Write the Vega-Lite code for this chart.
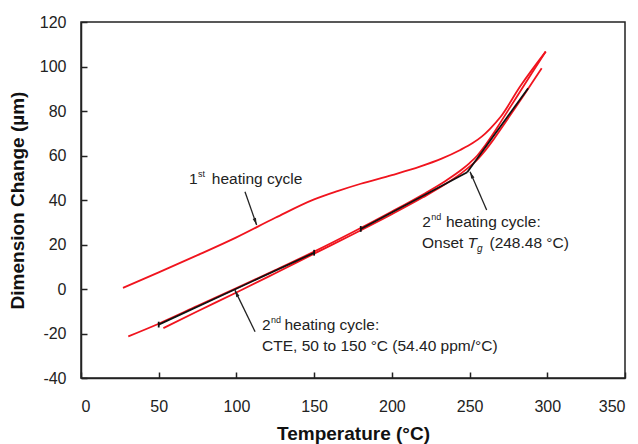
{
  "$schema": "https://vega.github.io/schema/vega-lite/v6.json",
  "width": 544,
  "height": 356,
  "autosize": {"type": "none"},
  "padding": {"left": 81, "top": 22, "right": 13, "bottom": 66},
  "background": "white",
  "config": {
    "view": {"stroke": "#222", "strokeWidth": 1.5},
    "font": "Liberation Sans",
    "axis": {
      "grid": false,
      "domainColor": "#222",
      "domainWidth": 1.5,
      "tickColor": "#222",
      "tickWidth": 1.5,
      "tickSize": -6,
      "labelFont": "Liberation Sans",
      "labelFontSize": 16,
      "labelColor": "#222",
      "titleFont": "Liberation Sans",
      "titleFontSize": 19,
      "titleFontWeight": "bold",
      "titleColor": "#111"
    }
  },
  "datasets": {
    "curves": [
      {"series": "1st heating", "T": 27, "V": 0.5},
      {"series": "1st heating", "T": 50, "V": 7.5},
      {"series": "1st heating", "T": 75, "V": 15.2},
      {"series": "1st heating", "T": 100, "V": 23.2},
      {"series": "1st heating", "T": 125, "V": 32},
      {"series": "1st heating", "T": 150, "V": 40.3},
      {"series": "1st heating", "T": 165, "V": 44},
      {"series": "1st heating", "T": 180, "V": 47.3},
      {"series": "1st heating", "T": 200, "V": 51.2},
      {"series": "1st heating", "T": 218, "V": 55},
      {"series": "1st heating", "T": 232, "V": 58.6},
      {"series": "1st heating", "T": 244, "V": 62.5},
      {"series": "1st heating", "T": 252, "V": 65.6},
      {"series": "1st heating", "T": 258, "V": 68.6},
      {"series": "1st heating", "T": 263, "V": 71.9},
      {"series": "1st heating", "T": 270, "V": 77.4},
      {"series": "1st heating", "T": 282.5, "V": 91},
      {"series": "1st heating", "T": 299, "V": 106.7},
      {"series": "2nd heating A", "T": 30.4, "V": -21.3},
      {"series": "2nd heating A", "T": 50, "V": -15.6},
      {"series": "2nd heating A", "T": 75, "V": -7.6},
      {"series": "2nd heating A", "T": 100, "V": 0.4},
      {"series": "2nd heating A", "T": 125, "V": 8.5},
      {"series": "2nd heating A", "T": 150, "V": 16.8},
      {"series": "2nd heating A", "T": 175, "V": 25.6},
      {"series": "2nd heating A", "T": 200, "V": 34.8},
      {"series": "2nd heating A", "T": 220, "V": 42.5},
      {"series": "2nd heating A", "T": 235, "V": 48.8},
      {"series": "2nd heating A", "T": 245, "V": 53.7},
      {"series": "2nd heating A", "T": 250, "V": 56.6},
      {"series": "2nd heating A", "T": 255, "V": 60},
      {"series": "2nd heating A", "T": 260, "V": 64.5},
      {"series": "2nd heating A", "T": 265, "V": 69.5},
      {"series": "2nd heating A", "T": 270, "V": 75},
      {"series": "2nd heating A", "T": 280, "V": 86},
      {"series": "2nd heating A", "T": 290, "V": 97},
      {"series": "2nd heating A", "T": 299, "V": 106.7},
      {"series": "2nd heating B", "T": 53, "V": -17.6},
      {"series": "2nd heating B", "T": 75, "V": -10},
      {"series": "2nd heating B", "T": 100, "V": -1.6},
      {"series": "2nd heating B", "T": 125, "V": 7.1},
      {"series": "2nd heating B", "T": 150, "V": 15.9},
      {"series": "2nd heating B", "T": 175, "V": 24.6},
      {"series": "2nd heating B", "T": 200, "V": 33.6},
      {"series": "2nd heating B", "T": 220, "V": 41.2},
      {"series": "2nd heating B", "T": 235, "V": 47.4},
      {"series": "2nd heating B", "T": 245, "V": 52.2},
      {"series": "2nd heating B", "T": 250, "V": 55},
      {"series": "2nd heating B", "T": 255, "V": 58.2},
      {"series": "2nd heating B", "T": 260, "V": 62.2},
      {"series": "2nd heating B", "T": 265, "V": 66.8},
      {"series": "2nd heating B", "T": 270, "V": 71.8},
      {"series": "2nd heating B", "T": 280, "V": 82},
      {"series": "2nd heating B", "T": 290, "V": 92.5},
      {"series": "2nd heating B", "T": 296.4, "V": 99.2}
    ],
    "segments": [
      {"T1": 50, "V1": -16, "T2": 150, "V2": 16.3},
      {"T1": 180, "V1": 27, "T2": 248.5, "V2": 52.5},
      {"T1": 248.5, "V1": 52.5, "T2": 287.7, "V2": 90.2},
      {"T1": 50, "V1": -17.3, "T2": 50, "V2": -14.7},
      {"T1": 150, "V1": 15, "T2": 150, "V2": 17.6},
      {"T1": 180, "V1": 25.7, "T2": 180, "V2": 28.3}
    ],
    "arrows": [
      {"T1": 105.5, "V1": 43.7, "T2": 113, "V2": 28.8},
      {"T1": 261, "V1": 35.5, "T2": 250.3, "V2": 52.7},
      {"T1": 112, "V1": -19.2, "T2": 99, "V2": -0.5}
    ],
    "head1": [{"T": 113, "V": 28.8}],
    "head2": [{"T": 250.3, "V": 52.7}],
    "head3": [{"T": 99, "V": -0.5}],
    "text": [
      {"T": 69.5, "V": 47.2, "label": "1"},
      {"T": 84.2, "V": 47.2, "label": "heating cycle"},
      {"T": 219.6, "V": 27.9, "label": "2"},
      {"T": 234.8, "V": 27.9, "label": "heating cycle:"},
      {"T": 219.4, "V": 18.4, "label": "Onset"},
      {"T": 262.8, "V": 18.4, "label": "(248.48 °C)"},
      {"T": 116.5, "V": -18.4, "label": "2"},
      {"T": 130.9, "V": -18.4, "label": "heating cycle:"},
      {"T": 116.5, "V": -27.9, "label": "CTE, 50 to 150 °C (54.40 ppm/°C)"}
    ],
    "italic": [{"T": 248.6, "V": 18.4, "label": "T"}],
    "sup": [
      {"T": 75.2, "V": 50.3, "label": "st"},
      {"T": 225.4, "V": 31, "label": "nd"},
      {"T": 122.2, "V": -15.3, "label": "nd"}
    ],
    "sub": [{"T": 254.8, "V": 16.6, "label": "g"}]
  },
  "layer": [
    {
      "data": {"name": "curves"},
      "mark": {"type": "line", "color": "#f0141e", "strokeWidth": 1.8, "interpolate": "monotone"},
      "encoding": {
        "x": {"field": "T", "type": "quantitative", "scale": {"domain": [0, 350], "nice": false}, "axis": {"values": [0, 50, 100, 150, 200, 250, 300, 350], "title": "Temperature (°C)", "labelPadding": 26, "titlePadding": 10}},
        "y": {"field": "V", "type": "quantitative", "scale": {"domain": [-40, 120], "nice": false}, "axis": {"values": [-40, -20, 0, 20, 40, 60, 80, 100, 120], "title": "Dimension Change (µm)", "labelPadding": 21, "titlePadding": 12, "labelExpr": "datum.value < 0 ? '-' + abs(datum.value) : '' + datum.value"}},
        "detail": {"field": "series"},
        "order": {"field": "T", "type": "quantitative"}
      }
    },
    {
      "data": {"name": "segments"},
      "mark": {"type": "rule", "color": "#111", "strokeWidth": 1.8},
      "encoding": {
        "x": {"field": "T1", "type": "quantitative"},
        "y": {"field": "V1", "type": "quantitative"},
        "x2": {"field": "T2"},
        "y2": {"field": "V2"}
      }
    },
    {
      "data": {"name": "arrows"},
      "mark": {"type": "rule", "color": "#222", "strokeWidth": 1.3},
      "encoding": {
        "x": {"field": "T1", "type": "quantitative"},
        "y": {"field": "V1", "type": "quantitative"},
        "x2": {"field": "T2"},
        "y2": {"field": "V2"}
      }
    },
    {
      "data": {"name": "head1"},
      "mark": {"type": "point", "shape": "M0,0L0.5,2L-0.5,2Z", "filled": true, "color": "#222", "opacity": 1, "size": 49, "angle": 160.6},
      "encoding": {"x": {"field": "T", "type": "quantitative"}, "y": {"field": "V", "type": "quantitative"}}
    },
    {
      "data": {"name": "head2"},
      "mark": {"type": "point", "shape": "M0,0L0.5,2L-0.5,2Z", "filled": true, "color": "#222", "opacity": 1, "size": 49, "angle": 336.4},
      "encoding": {"x": {"field": "T", "type": "quantitative"}, "y": {"field": "V", "type": "quantitative"}}
    },
    {
      "data": {"name": "head3"},
      "mark": {"type": "point", "shape": "M0,0L0.5,2L-0.5,2Z", "filled": true, "color": "#222", "opacity": 1, "size": 49, "angle": 334.4},
      "encoding": {"x": {"field": "T", "type": "quantitative"}, "y": {"field": "V", "type": "quantitative"}}
    },
    {
      "data": {"name": "text"},
      "mark": {"type": "text", "align": "left", "baseline": "alphabetic", "fontSize": 15.5, "color": "#222", "font": "Liberation Sans"},
      "encoding": {"x": {"field": "T", "type": "quantitative"}, "y": {"field": "V", "type": "quantitative"}, "text": {"field": "label"}}
    },
    {
      "data": {"name": "italic"},
      "mark": {"type": "text", "align": "left", "baseline": "alphabetic", "fontSize": 15.5, "fontStyle": "italic", "color": "#222", "font": "Liberation Sans"},
      "encoding": {"x": {"field": "T", "type": "quantitative"}, "y": {"field": "V", "type": "quantitative"}, "text": {"field": "label"}}
    },
    {
      "data": {"name": "sup"},
      "mark": {"type": "text", "align": "left", "baseline": "alphabetic", "fontSize": 9, "color": "#222", "font": "Liberation Sans"},
      "encoding": {"x": {"field": "T", "type": "quantitative"}, "y": {"field": "V", "type": "quantitative"}, "text": {"field": "label"}}
    },
    {
      "data": {"name": "sub"},
      "mark": {"type": "text", "align": "left", "baseline": "alphabetic", "fontSize": 10, "fontStyle": "italic", "color": "#222", "font": "Liberation Sans"},
      "encoding": {"x": {"field": "T", "type": "quantitative"}, "y": {"field": "V", "type": "quantitative"}, "text": {"field": "label"}}
    }
  ]
}
